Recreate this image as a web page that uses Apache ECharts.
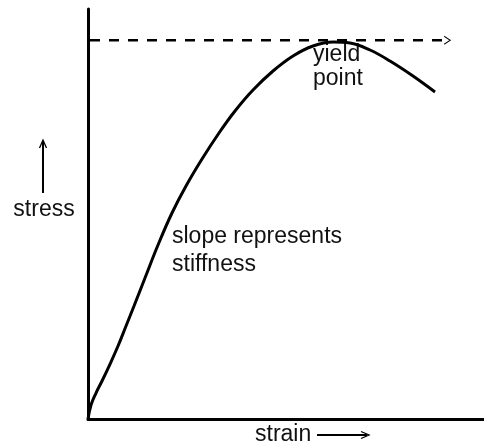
<!DOCTYPE html>
<html>
<head>
<meta charset="utf-8">
<script src="https://cdn.jsdelivr.net/npm/echarts@6/dist/echarts.min.js"></script>
<style>html,body{margin:0;padding:0;background:#fff}#c{width:484px;height:446px}</style>
</head>
<body>
<div id="c"></div>
<script>
// strain (0-100) and stress (0-100)
var strain = [0, 0.76, 2.02, 3.54, 5.56, 7.58, 9.60, 11.62, 14.39, 17.68, 21.21, 24.75, 28.79, 33.08, 37.12, 41.67, 46.72, 51.77, 56.82, 61.87, 66.16, 71.21, 76.26, 82.07, 87.63];
var stress = [0, 3.41, 6.34, 9.27, 13.41, 17.80, 22.68, 27.56, 34.39, 42.44, 50.24, 56.83, 63.41, 69.76, 75.12, 80.24, 84.88, 88.54, 90.98, 91.95, 91.71, 90.00, 87.32, 83.66, 79.76];
var yieldLevel = 92.4;
var yieldLineStrain = [0.5, 90.7];
var labels = { y: 'stress', x: 'strain', slope: ['slope represents', 'stiffness'], yieldPt: ['yield', 'point'] };

var curve = strain.map(function (s, i) { return [s, stress[i]]; });
var arrowPath = 'path://M0,0 L10,6 L0,12';
var dashed = [
  [yieldLineStrain[0], yieldLevel],
  { value: [yieldLineStrain[1], yieldLevel], symbol: arrowPath, symbolSize: [6, 8], symbolRotate: 0,
    itemStyle: { color: 'none', borderColor: '#000', borderWidth: 1 } }
];

var font = '"Liberation Sans", Arial, sans-serif';
var txt = '#111';
var chart = echarts.init(document.getElementById('c'), null, { renderer: 'canvas' });
chart.setOption({
  animation: false,
  backgroundColor: '#fff',
  grid: { left: 88, right: 0, top: 9, bottom: 27 },
  xAxis: { type: 'value', min: 0, max: 100, axisLine: { show: true, lineStyle: { color: '#000', width: 3 } },
    axisTick: { show: false }, axisLabel: { show: false }, splitLine: { show: false } },
  yAxis: { type: 'value', min: 0, max: 100, axisLine: { show: true, lineStyle: { color: '#000', width: 3 } },
    axisTick: { show: false }, axisLabel: { show: false }, splitLine: { show: false } },
  series: [
    { type: 'line', data: curve, smooth: 0.4, symbol: 'none', lineStyle: { color: '#000', width: 3 } },
    { type: 'line', data: dashed, symbol: 'none', lineStyle: { color: '#000', width: 2.5, type: [10, 9] } }
  ],
  graphic: [
    { type: 'text', x: 44, y: 210, style: { text: labels.y, font: '23px ' + font, fill: txt, align: 'center', verticalAlign: 'middle' } },
    { type: 'line', shape: { x1: 43, y1: 193, x2: 43, y2: 141 }, style: { stroke: '#000', lineWidth: 2 } },
    { type: 'polyline', shape: { points: [[39.5, 148], [43, 140], [46.5, 148]] }, style: { stroke: '#000', lineWidth: 1.3, fill: 'none' } },
    { type: 'text', x: 255, y: 435, style: { text: labels.x, font: '23px ' + font, fill: txt, align: 'left', verticalAlign: 'middle' } },
    { type: 'line', shape: { x1: 317, y1: 435, x2: 367, y2: 435 }, style: { stroke: '#000', lineWidth: 2 } },
    { type: 'polyline', shape: { points: [[361, 431.5], [369, 435], [361, 438.5]] }, style: { stroke: '#000', lineWidth: 1.3, fill: 'none' } },
    { type: 'text', x: 172, y: 237, style: { text: labels.slope[0], font: '23px ' + font, fill: txt, align: 'left', verticalAlign: 'middle' } },
    { type: 'text', x: 172, y: 265, style: { text: labels.slope[1], font: '23px ' + font, fill: txt, align: 'left', verticalAlign: 'middle' } },
    { type: 'text', x: 313, y: 55, style: { text: labels.yieldPt[0], font: '23px ' + font, fill: txt, align: 'left', verticalAlign: 'middle' } },
    { type: 'text', x: 313, y: 79, style: { text: labels.yieldPt[1], font: '23px ' + font, fill: txt, align: 'left', verticalAlign: 'middle' } }
  ]
});
</script>
</body>
</html>
